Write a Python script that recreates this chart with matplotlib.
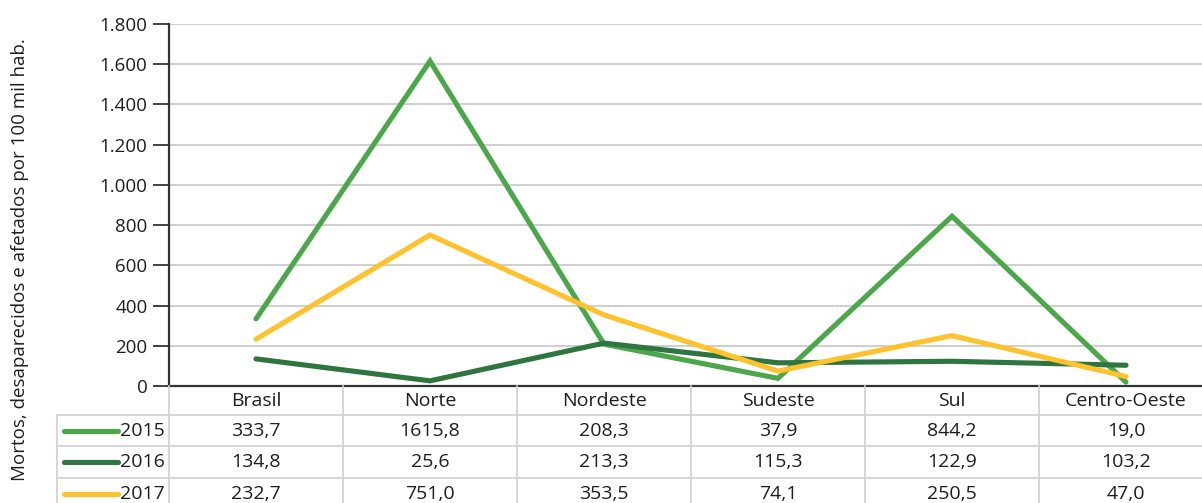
import matplotlib
matplotlib.use("Agg")
import matplotlib.pyplot as plt
from matplotlib.ticker import FixedLocator

plt.rcParams['font.family'] = ['Open Sans', 'DejaVu Sans']

regions = ["Brasil", "Norte", "Nordeste", "Sudeste", "Sul", "Centro-Oeste"]
years = ["2015", "2016", "2017"]
v2015 = [333.7, 1615.8, 208.3, 37.9, 844.2, 19.0]
v2016 = [134.8, 25.6, 213.3, 115.3, 122.9, 103.2]
v2017 = [232.7, 751.0, 353.5, 74.1, 250.5, 47.0]
yticks = [0, 200, 400, 600, 800, 1000, 1200, 1400, 1600, 1800]
ylabel = "Mortos, desaparecidos e afetados por 100 mil hab."

series = [v2015, v2016, v2017]
colors = ["#4CA64A", "#2E7540", "#FDC22E"]
text_color = "#1e1e1e"

W, H = 1202, 503
fig = plt.figure(figsize=(W / 100, H / 100), dpi=100)
fig.patch.set_facecolor("white")

# main plotting area (the last column runs past the right edge)
ax_left, ax_right = 169, 1213
ax_top, ax_bottom = 24, 386
ax = fig.add_axes([ax_left / W, (H - ax_bottom) / H,
                   (ax_right - ax_left) / W, (ax_bottom - ax_top) / H])
xs = list(range(len(regions)))
ax.set_xlim(-0.5, len(regions) - 0.5)
ax.set_ylim(0, 1800)

for vals, c in zip(series, colors):
    ax.plot(xs, vals, color=c, lw=3.7, solid_capstyle="round",
            solid_joinstyle="miter", zorder=3)

ax.yaxis.set_major_locator(FixedLocator(yticks))
ax.set_yticklabels([f"{t:,}".replace(",", ".") for t in yticks])
ax.grid(axis="y", color="#cfcfcf", lw=1.4, zorder=0)
ax.set_axisbelow(True)
ax.set_xticks([])
for s in ["top", "right"]:
    ax.spines[s].set_visible(False)
for s in ["left", "bottom"]:
    ax.spines[s].set_color("#333333")
    ax.spines[s].set_linewidth(1.6)
ax.tick_params(axis="y", length=11.5, width=1.3, color="#333333",
               labelsize=13.5, labelcolor=text_color, pad=4)

fig.text(20 / W, (H - 260) / H, ylabel, rotation=90, ha="center",
         va="center", fontsize=13.5, color=text_color)

# data table below the plot
tab_bottom = 510
tax = fig.add_axes([ax_left / W, (H - tab_bottom) / H,
                    (ax_right - ax_left) / W, (tab_bottom - ax_bottom) / H])
tax.set_xlim(-0.5, len(regions) - 0.5)
tax.set_ylim(tab_bottom - ax_bottom, 0)
tax.axis("off")

row_edges = [0, 29, 60, 92, 124]
left_x = -0.5 + (57 - ax_left) / 174
grid_kw = dict(color="#d0d0d0", lw=1.2, clip_on=False, zorder=1)

for y in row_edges[1:]:
    tax.plot([left_x, len(regions) - 0.5], [y, y], **grid_kw)
for i in range(len(regions) + 1):
    xb = i - 0.5
    tax.plot([xb, xb], [row_edges[0], row_edges[-1]], **grid_kw)
tax.plot([left_x, left_x], [row_edges[1], row_edges[-1]], **grid_kw)

hdr_y = (row_edges[0] + row_edges[1]) / 2
for i, name in enumerate(regions):
    tax.text(i, hdr_y, name, ha="center", va="center", fontsize=14,
             color=text_color)

sw0 = -0.5 + (64 - ax_left) / 174
sw1 = -0.5 + (118 - ax_left) / 174
lab_x = -0.5 + (165 - ax_left) / 174
for r, (yr, vals, c) in enumerate(zip(years, series, colors)):
    yc = (row_edges[r + 1] + row_edges[r + 2]) / 2
    tax.plot([sw0, sw1], [yc, yc], color=c, lw=3.7, solid_capstyle="round",
             clip_on=False)
    tax.text(lab_x, yc, yr, ha="right", va="center", fontsize=14,
             color=text_color)
    for i, v in enumerate(vals):
        tax.text(i, yc, f"{v:.1f}".replace(".", ","), ha="center",
                 va="center", fontsize=14, color=text_color)

fig.savefig("out.png", dpi=100)
